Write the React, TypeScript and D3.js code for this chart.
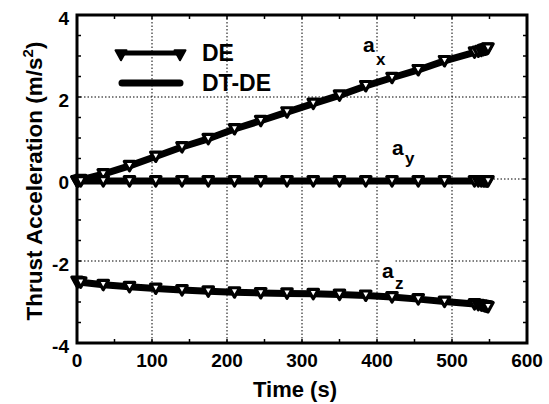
import React from "react";
import * as d3 from "d3";

const times = [0, 2, 5, 35, 70, 105, 140, 175, 210, 245, 280, 315, 350, 385, 420, 455, 490, 530, 535, 539, 542, 544, 546, 547, 548];
const axVals = [-0.05, -0.04, -0.02, 0.12, 0.32, 0.55, 0.78, 0.98, 1.22, 1.42, 1.63, 1.84, 2.04, 2.27, 2.47, 2.66, 2.88, 3.09, 3.11, 3.13, 3.15, 3.16, 3.17, 3.18, 3.19];
const ayVals = [-0.05, -0.05, -0.05, -0.05, -0.05, -0.05, -0.05, -0.05, -0.05, -0.05, -0.05, -0.05, -0.05, -0.05, -0.05, -0.05, -0.05, -0.05, -0.05, -0.05, -0.05, -0.05, -0.05, -0.05, -0.05];
const azVals = [-2.5, -2.51, -2.52, -2.58, -2.63, -2.67, -2.71, -2.74, -2.76, -2.78, -2.79, -2.8, -2.82, -2.84, -2.88, -2.93, -2.99, -3.05, -3.07, -3.08, -3.09, -3.1, -3.11, -3.11, -3.12];

const xTicks = [0, 100, 200, 300, 400, 500, 600];
const yTicks = [-4, -2, 0, 2, 4];
const xMinor = d3.range(0, 601, 50);
const yMinor = d3.range(-4, 4.01, 0.5);

const FONT = "'Liberation Sans', Arial, sans-serif";

export default function App() {
  const x = d3.scaleLinear().domain([0, 600]).range([77, 527]);
  const y = d3.scaleLinear().domain([-4, 4]).range([343, 15]);
  const line = d3
    .line<[number, number]>()
    .x((d) => x(d[0]))
    .y((d) => y(d[1]));
  const series = [axVals, ayVals, azVals].map((vals) =>
    times.map((t, i) => [t, vals[i]] as [number, number])
  );
  const tri = (cx: number, cy: number, s = 5) =>
    `M${cx - s},${cy - s * 0.85}L${cx + s},${cy - s * 0.85}L${cx},${cy + s * 0.95}Z`;

  const [x0, x1] = x.range();
  const [yb, yt] = y.range();

  return (
    <svg
      width={549}
      height={404}
      style={{ position: "absolute", left: 0, top: 0, background: "#fff" }}
      fontFamily={FONT}
    >
      <rect x={0} y={0} width={549} height={404} fill="#fff" />
      {/* grid */}
      {xTicks.slice(1, -1).map((t) => (
        <line key={"gx" + t} x1={x(t)} x2={x(t)} y1={yt} y2={yb} stroke="#000" strokeWidth={1} strokeDasharray="1.5,2" />
      ))}
      {yTicks.slice(1, -1).map((t) => (
        <line key={"gy" + t} x1={x0} x2={x1} y1={y(t)} y2={y(t)} stroke="#000" strokeWidth={1} strokeDasharray="1.5,2" />
      ))}
      {/* label backgrounds breaking grid */}
      <rect x={374} y={53} width={7} height={17} fill="#fff" />
      <rect x={380} y={258} width={15} height={8} fill="#fff" />
      {/* minor ticks */}
      {xMinor.map((t) => (
        <g key={"mx" + t}>
          <line x1={x(t)} x2={x(t)} y1={yb} y2={yb - 4} stroke="#000" strokeWidth={1.5} />
          <line x1={x(t)} x2={x(t)} y1={yt} y2={yt + 4} stroke="#000" strokeWidth={1.5} />
        </g>
      ))}
      {yMinor.map((t) => (
        <g key={"my" + t}>
          <line x1={x0} x2={x0 + 4} y1={y(t)} y2={y(t)} stroke="#000" strokeWidth={1.5} />
          <line x1={x1} x2={x1 - 4} y1={y(t)} y2={y(t)} stroke="#000" strokeWidth={1.5} />
        </g>
      ))}
      {/* DT-DE lines */}
      {series.map((s, i) => (
        <path key={"dt" + i} d={line(s) || ""} fill="none" stroke="#000" strokeWidth={7} strokeLinejoin="round" strokeLinecap="round" />
      ))}
      {/* DE lines + markers */}
      {series.map((s, i) => (
        <g key={"de" + i}>
          <path d={line(s) || ""} fill="none" stroke="#000" strokeWidth={5} />
          {s.map((d, j) => (
            <path key={j} d={tri(x(d[0]), y(d[1]), 5.2)} fill="#fff" stroke="#000" strokeWidth={3.2} strokeLinejoin="round" />
          ))}
        </g>
      ))}
      {/* frame */}
      <rect x={x0} y={yt} width={x1 - x0} height={yb - yt} fill="none" stroke="#000" strokeWidth={3} />
      {/* tick labels */}
      {xTicks.map((t) => (
        <text key={"xl" + t} x={x(t)} y={367} textAnchor="middle" fontSize={19} fontWeight="bold">
          {t}
        </text>
      ))}
      {yTicks.map((t) => (
        <text key={"yl" + t} x={69} y={y(t) + 10} textAnchor="end" fontSize={19} fontWeight="bold">
          {t}
        </text>
      ))}
      {/* axis titles */}
      <text x={295} y={397} textAnchor="middle" fontSize={22} fontWeight="bold">
        Time (s)
      </text>
      <text transform="translate(42,181) rotate(-90)" textAnchor="middle" fontSize={22.5} fontWeight="bold">
        Thrust Acceleration (m/s
        <tspan fontSize={15} dy={-9}>2</tspan>
        <tspan dy={9}>)</tspan>
      </text>
      {/* legend */}
      <line x1={120} x2={180} y1={53} y2={53} stroke="#000" strokeWidth={5} />
      <path d={tri(121, 55, 5.5)} fill="#000" stroke="#000" strokeWidth={2} strokeLinejoin="round" />
      <path d={tri(180, 55, 5.5)} fill="#000" stroke="#000" strokeWidth={2} strokeLinejoin="round" />
      <line x1={122} x2={180} y1={83} y2={83} stroke="#000" strokeWidth={7} strokeLinecap="round" />
      <text x={202} y={61} fontSize={23} fontWeight="bold">DE</text>
      <text x={202} y={91} fontSize={23} fontWeight="bold">DT-DE</text>
      {/* annotations */}
      <text x={363} y={52} fontSize={21} fontWeight="bold">a</text>
      <text x={376} y={65} fontSize={17} fontWeight="bold">x</text>
      <text x={392} y={155} fontSize={21} fontWeight="bold">a</text>
      <text x={405} y={164} fontSize={17} fontWeight="bold">y</text>
      <text x={382} y={278} fontSize={21} fontWeight="bold">a</text>
      <text x={395} y={289} fontSize={17} fontWeight="bold">z</text>
    </svg>
  );
}
